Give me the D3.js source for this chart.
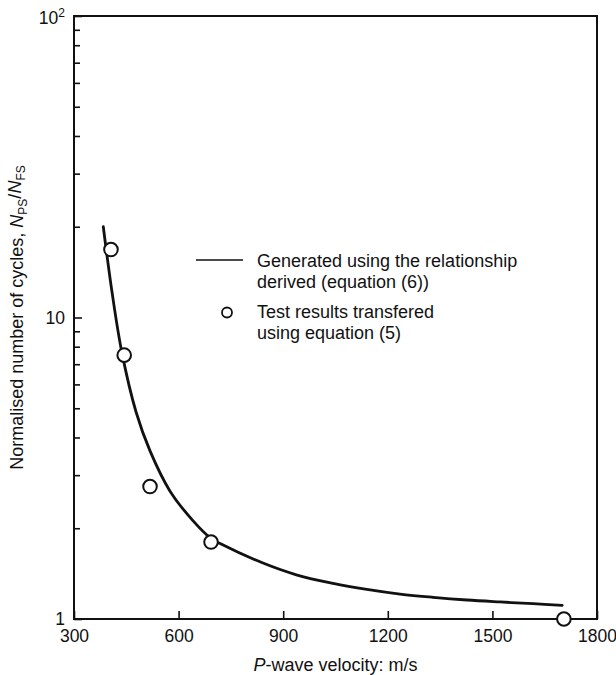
<!DOCTYPE html>
<html>
<head>
<meta charset="utf-8">
<script src="https://cdn.jsdelivr.net/npm/d3@7"></script>
<style>
  html, body { margin: 0; padding: 0; background: #fff; }
  svg { display: block; font-family: "Liberation Sans", Arial, Helvetica, sans-serif; }
</style>
</head>
<body>
<svg id="chart" width="616" height="675"></svg>
<script>
// Curve generated from the derived relationship, equation (6)
const curveVelocity = [384, 409, 437, 478, 518, 575, 641, 693, 719, 842, 940, 1043, 1140, 1235, 1330, 1427, 1522, 1617, 1700];
const curveCycles   = [20.0, 12.15, 7.69, 4.86, 3.61, 2.66, 2.12, 1.85, 1.78, 1.533, 1.399, 1.313, 1.254, 1.210, 1.180, 1.156, 1.139, 1.124, 1.110];

// Test results transferred using equation (5)
const testVelocity = [406, 444, 518, 693, 1705];
const testCycles   = [16.8, 7.5, 2.75, 1.80, 1.0];

// Axis ticks
const xTickValues = [300, 600, 900, 1200, 1500, 1800];
const yMajorTicks = [1, 10, 100];
const yMinorTicks = [2, 3, 4, 5, 6, 7, 8, 9, 20, 30, 40, 50, 60, 70, 80, 90];

// Legend entries
const legendLineText = ["Generated using the relationship", "derived (equation (6))"];
const legendPointText = ["Test results transfered", "using equation (5)"];

const svg = d3.select("#chart");
const ink = "#111";
const fontSize = 18;
const tickFontSize = 17.5;

const x = d3.scaleLinear().domain([300, 1800]).range([74, 597]);
const y = d3.scaleLog().domain([1, 100]).range([619, 16]);

// X axis: inward ticks, labels below
const xAxis = svg.append("g")
  .attr("transform", `translate(0,${y(1)})`)
  .call(d3.axisBottom(x).tickValues(xTickValues).tickSize(-8).tickPadding(11).tickFormat(d3.format("d")));
xAxis.select(".domain").remove();
xAxis.selectAll("line").attr("stroke", ink).attr("stroke-width", 1.6);
xAxis.selectAll("text").attr("fill", ink).attr("font-size", tickFontSize).attr("font-family", null);

// Y axis: minor ticks
const yMinor = svg.append("g")
  .attr("transform", `translate(${x(300)},0)`)
  .call(d3.axisLeft(y).tickValues(yMinorTicks).tickSize(-6).tickFormat(""));
yMinor.select(".domain").remove();
yMinor.selectAll("line").attr("stroke", ink).attr("stroke-width", 1.6);

// Y axis: decades
const yMajor = svg.append("g")
  .attr("transform", `translate(${x(300)},0)`)
  .call(d3.axisLeft(y).tickValues(yMajorTicks).tickSize(-8).tickPadding(9).tickFormat(""));
yMajor.select(".domain").remove();
yMajor.selectAll("line").attr("stroke", ink).attr("stroke-width", 1.6);
yMajor.selectAll("text")
  .attr("fill", ink).attr("font-size", tickFontSize).attr("font-family", null).attr("dy", "0.34em")
  .each(function(d) {
    const t = d3.select(this);
    if (d === 100) {
      t.attr("dy", "0.42em");
      t.append("tspan").text("10");
      t.append("tspan").attr("font-size", 12).attr("dy", "-0.6em").text("2");
    } else {
      t.text(d);
    }
  });

// Plot frame
svg.append("rect")
  .attr("x", x(300)).attr("y", y(100))
  .attr("width", x(1800) - x(300)).attr("height", y(1) - y(100))
  .attr("fill", "none").attr("stroke", ink).attr("stroke-width", 2);

// Relationship curve
const curvePts = curveVelocity.map((v, i) => [v, curveCycles[i]]);
svg.append("path")
  .datum(curvePts)
  .attr("fill", "none").attr("stroke", ink).attr("stroke-width", 2.8)
  .attr("stroke-linecap", "round").attr("stroke-linejoin", "round")
  .attr("d", d3.line().x(d => x(d[0])).y(d => y(d[1])).curve(d3.curveCatmullRom.alpha(0.5)));

// Test result markers
svg.append("g").selectAll("circle")
  .data(testVelocity.map((v, i) => [v, testCycles[i]]))
  .join("circle")
  .attr("cx", d => x(d[0])).attr("cy", d => y(d[1])).attr("r", 6.8)
  .attr("fill", "#fff").attr("stroke", ink).attr("stroke-width", 2);

// Legend
const legend = svg.append("g");
legend.append("line")
  .attr("x1", 196).attr("x2", 243).attr("y1", 260).attr("y2", 260)
  .attr("stroke", ink).attr("stroke-width", 1.6);
legend.append("text")
  .attr("x", 257).attr("y", 267).attr("font-size", fontSize).attr("fill", ink)
  .selectAll("tspan").data(legendLineText).join("tspan")
  .attr("x", 257).attr("dy", (d, i) => i === 0 ? 0 : 21).text(d => d);
legend.append("circle")
  .attr("cx", 227).attr("cy", 312.5).attr("r", 5)
  .attr("fill", "#fff").attr("stroke", ink).attr("stroke-width", 1.8);
legend.append("text")
  .attr("x", 257).attr("y", 317.5).attr("font-size", fontSize).attr("fill", ink)
  .selectAll("tspan").data(legendPointText).join("tspan")
  .attr("x", 257).attr("dy", (d, i) => i === 0 ? 0 : 21.5).text(d => d);

// X axis title
const xTitle = svg.append("text")
  .attr("x", (x(300) + x(1800)) / 2).attr("y", 671)
  .attr("text-anchor", "middle").attr("font-size", fontSize).attr("fill", ink);
xTitle.append("tspan").attr("font-style", "italic").text("P");
xTitle.append("tspan").text("-wave velocity: m/s");

// Y axis title
const yTitle = svg.append("text")
  .attr("transform", `translate(23,${(y(1) + y(100)) / 2}) rotate(-90)`)
  .attr("text-anchor", "middle").attr("font-size", fontSize).attr("fill", ink);
yTitle.append("tspan").text("Normalised number of cycles, ");
yTitle.append("tspan").attr("font-style", "italic").text("N");
yTitle.append("tspan").attr("font-size", 12).attr("dy", "0.3em").text("PS");
yTitle.append("tspan").attr("dy", "-0.3em").text("/");
yTitle.append("tspan").attr("font-style", "italic").text("N");
yTitle.append("tspan").attr("font-size", 12).attr("dy", "0.3em").text("FS");
</script>
</body>
</html>
